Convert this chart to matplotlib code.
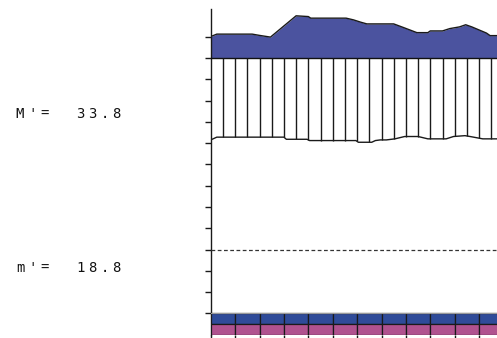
import numpy as np
import matplotlib
matplotlib.use("Agg")
import matplotlib.pyplot as plt

# --- climate data (month units along x: 0 = start of January, 12 = end of December)
precip_x = [0, 0.25, 1.7, 2.0, 2.45, 3.5, 4.0, 4.1, 5.55, 5.85, 6.15, 6.4, 7.5, 7.9,
            8.45, 8.9, 9.0, 9.5, 9.8, 10.2, 10.45, 10.7, 11.3, 11.45, 12.0]
precip_mm = [301, 324, 324, 312, 296, 496, 489, 474, 474, 458, 436, 420, 420, 386,
             338, 338, 354, 354, 376, 392, 412, 392, 334, 310, 310]

temp_x = [0, 0.25, 3.0, 3.1, 3.95, 4.05, 5.95, 6.05, 6.6, 6.75, 6.95, 7.2, 7.55, 7.95,
          8.5, 8.9, 9.65, 9.95, 10.42, 10.63, 11.15, 12.0]
temp_c = [11.5, 12.8, 12.8, 11.8, 11.8, 11.2, 11.2, 10.4, 10.4, 11.2, 11.5, 11.5, 12.0,
          13.1, 13.1, 12.0, 12.0, 13.1, 13.5, 13.1, 12.0, 12.0]

months = np.arange(12)
frost_rows = [(-75, -70, "#2f4b99"), (-80, -75, "#b0528f")]
ref_level = -40

label_lines = [("M'=  33.8", 118.0), ("m'=  18.8", 272.0)]


def precip_scale(p):
    """Precipitation on the temperature scale: 20 mm per 10 degC up to 100 mm,
    200 mm per 10 degC above it."""
    p = np.asarray(p, dtype=float)
    return np.where(p <= 100, p / 2.0, 50 + (p - 100) / 20.0)


W, H = 497, 338
fig = plt.figure(figsize=(W / 100, H / 100), dpi=100)
ax = fig.add_axes([210.7 / W, 3.3 / H, 292.8 / W, 325.7 / H])
ax.set_xlim(0, 12)
ax.set_ylim(-80, 73)

# wet season above 100 mm: solid fill
px = np.array(precip_x)
pv = precip_scale(precip_mm)
ax.fill_between(px, 50, pv, color="#4b539f", lw=0, zorder=2)
ax.plot(px, pv, color="#1a1a1a", lw=1.0, zorder=3)
ax.axhline(50, color="#111111", lw=1.0, zorder=3)

# humid period: vertical hatching from 100 mm down to the temperature curve
hx = np.arange(0.5, 12.0, 0.5)
ht = np.interp(hx, temp_x, temp_c)
ax.vlines(hx, ht, 50, color="#1a1a1a", lw=1.0, zorder=3)

# temperature curve
ax.plot(temp_x, temp_c, color="#1a1a1a", lw=1.0, zorder=4)

# reference dashed line
ax.axhline(ref_level, color="#333333", lw=0.9, ls=(0, (3, 2)), zorder=3)

# frost bars at the bottom
for lo, hi, col in frost_rows:
    ax.bar(months, hi - lo, bottom=lo, width=1.0, align="edge", color=col,
           edgecolor="#1a1a1a", linewidth=0.9, zorder=3)
ax.axhline(-70, color="#9a9a9a", lw=0.8, zorder=4)

# axes styling
for s in ("top", "right", "bottom"):
    ax.spines[s].set_visible(False)
ax.spines["left"].set_linewidth(1.0)
ax.spines["left"].set_color("#1a1a1a")
ax.set_yticks(np.arange(-70, 61, 10))
ax.set_xticks(np.arange(0, 13))
ax.tick_params(axis="y", direction="out", length=4.5, width=1.0, color="#1a1a1a",
               labelleft=False)
ax.tick_params(axis="x", direction="out", length=3.5, width=1.0, color="#1a1a1a",
               labelbottom=False)

# left margin labels on a fixed character grid
advance = 12.1
for text, base_y in label_lines:
    for i, ch in enumerate(text):
        if ch == " ":
            continue
        fig.text((20 + i * advance) / W, 1 - base_y / H, ch, ha="center",
                 va="baseline", fontsize=10, family="DejaVu Sans Mono",
                 color="#111111")

fig.savefig("out.png", dpi=100)
